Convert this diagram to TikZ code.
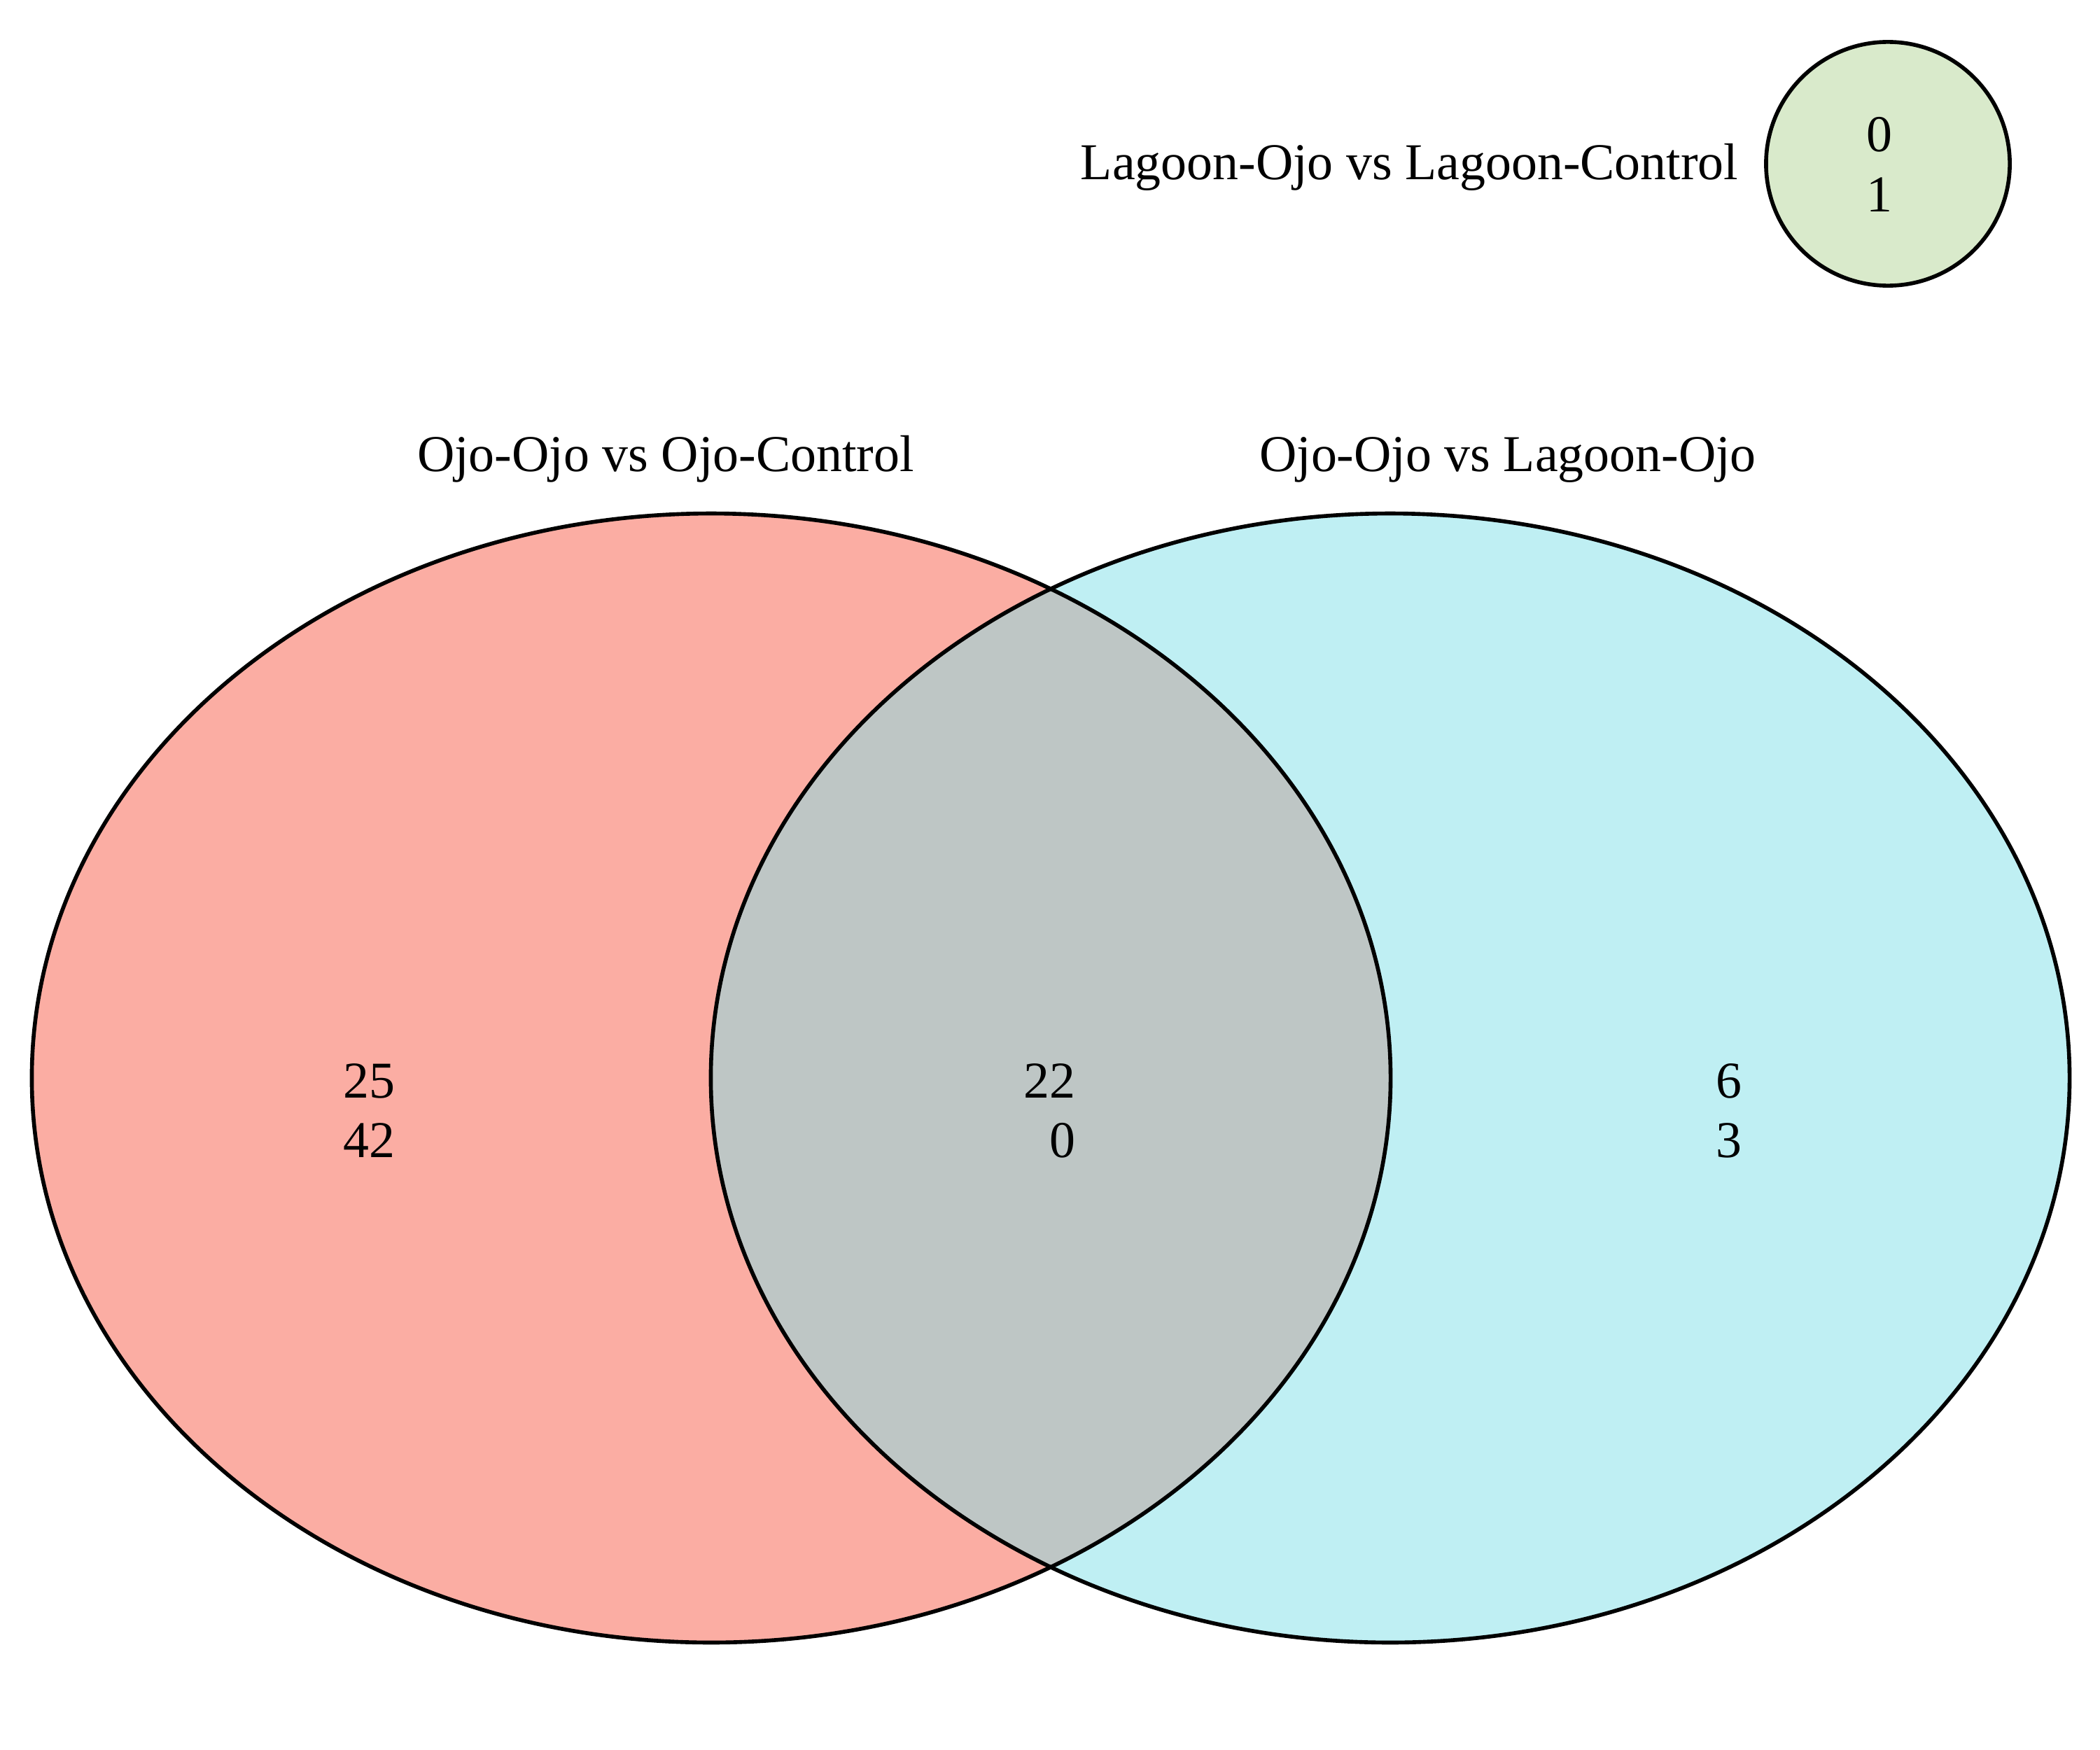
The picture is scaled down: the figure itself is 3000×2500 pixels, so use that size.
\documentclass[tikz,border=0pt]{standalone}
\usepackage{fontspec}
\setmainfont{Liberation Serif}
\definecolor{setA}{HTML}{FBADA3}
\definecolor{setB}{HTML}{BFEFF3}
\definecolor{setAB}{HTML}{BEC6C5}
\definecolor{setC}{HTML}{D9EACB}
\begin{document}
\begin{tikzpicture}[x=0.01cm,y=-0.01cm,
  lbl/.style={font=\fontsize{21}{25}\selectfont, inner sep=0pt, text=black},
  outline/.style={draw=black, line width=1.6pt},
  bigell/.style={x radius=9.70cm, y radius=8.06cm}]
\useasboundingbox (0,0) rectangle (3000,2500);
\fill[white] (0,0) rectangle (3000,2500);
% sets
\fill[setA] (1016,1540) ellipse [bigell];
\fill[setB] (1986,1540) ellipse [bigell];
\begin{scope}
  \clip (1016,1540) ellipse [bigell];
  \fill[setAB] (1986,1540) ellipse [bigell];
\end{scope}
\draw[outline] (1016,1540) ellipse [bigell];
\draw[outline] (1986,1540) ellipse [bigell];
\draw[outline, fill=setC] (2697,234) circle [radius=1.74cm];
% titles
\node[lbl, anchor=base] (tA) at (951,673) {Ojo-Ojo vs Ojo-Control};
\node[lbl, anchor=base] (tB) at (2154,673) {Ojo-Ojo vs Lagoon-Ojo};
\node[lbl, anchor=base east] (tC) at (2484,257) {Lagoon-Ojo vs Lagoon-Control};
% counts
\node[lbl, anchor=base east] (a1) at (565,1568) {25};
\node[lbl, anchor=base east] (a2) at (565,1653) {42};
\node[lbl, anchor=base east] (ab1) at (1537,1568) {22};
\node[lbl, anchor=base east] (ab2) at (1537,1653) {0};
\node[lbl, anchor=base east] (b1) at (2489,1568) {6};
\node[lbl, anchor=base east] (b2) at (2489,1653) {3};
\node[lbl, anchor=base] (c1) at (2685,216) {0};
\node[lbl, anchor=base] (c2) at (2685,302) {1};
\end{tikzpicture}
\end{document}
